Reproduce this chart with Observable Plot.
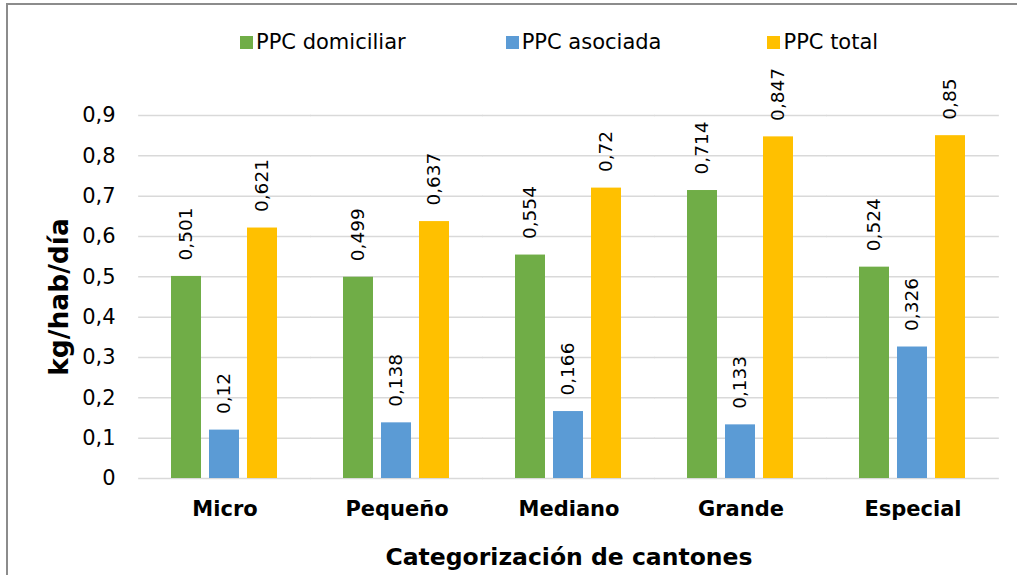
<!DOCTYPE html>
<html>
<head>
<meta charset="utf-8">
<script src="https://cdn.jsdelivr.net/npm/d3@7"></script>
<script src="https://cdn.jsdelivr.net/npm/@observablehq/plot@0.6"></script>
<style>
  html, body { margin: 0; padding: 0; background: #fff; }
  body { width: 1017px; height: 575px; position: relative; overflow: hidden; font-family: "DejaVu Sans", sans-serif; }
  #frame { position: absolute; left: 6px; top: 3px; width: 1200px; height: 800px; border-left: 2px solid #8c8c8c; border-top: 2px solid #8c8c8c; }
  #legend { position: absolute; top: 30px; left: 240px; height: 24px; display: flex; align-items: center; font-size: 21px; color: #000; }
  .item { display: flex; align-items: center; white-space: nowrap; }
  .sw { width: 13px; height: 13px; margin-right: 3px; }
  #chart { position: absolute; left: 0; top: 70px; }
  #chart svg [aria-label="fx-axis label"] text { font-size: 23.5px; font-weight: bold; }
  #chart svg [aria-label="y-axis label"] text { font-size: 26.5px; font-weight: bold; }
</style>
</head>
<body>
<div id="frame"></div>
<div id="legend"></div>
<div id="chart"></div>
<script>
const categories = ["Micro", "Pequeño", "Mediano", "Grande", "Especial"];
const series = ["PPC domiciliar", "PPC asociada", "PPC total"];
const domiciliar = [0.501, 0.499, 0.554, 0.714, 0.524];
const asociada = [0.12, 0.138, 0.166, 0.133, 0.326];
const total = [0.621, 0.637, 0.72, 0.847, 0.85];
const colors = ["#70AD47", "#5B9BD5", "#FFC000"];
const yTicks = [0, 0.1, 0.2, 0.3, 0.4, 0.5, 0.6, 0.7, 0.8, 0.9];

const values = [domiciliar, asociada, total];
const data = categories.flatMap((c, i) => series.map((s, j) => ({cat: c, serie: s, value: values[j][i]})));
const fmt = d => String(+d.toFixed(3)).replace(".", ",");

// legend
const legend = document.getElementById("legend");
const legendGaps = [100, 106, 0];
series.forEach((s, j) => {
  const it = document.createElement("div");
  it.className = "item";
  it.style.marginRight = legendGaps[j] + "px";
  const sw = document.createElement("span");
  sw.className = "sw";
  sw.style.background = colors[j];
  const t = document.createElement("span");
  t.textContent = s;
  it.appendChild(sw); it.appendChild(t);
  legend.appendChild(it);
});

const W = 1017, ML = 136, MR = 17, PAD = 0.38;
const step = (W - ML - MR) / categories.length;
const outer = step * PAD / 2; // distance from plot edge to first facet
const gridInset = -outer;

const chart = Plot.plot({
  width: W,
  height: 505,
  marginLeft: ML,
  marginRight: MR,
  marginTop: 45,
  marginBottom: 97,
  style: {fontFamily: "DejaVu Sans", color: "#000", background: "transparent", overflow: "visible"},
  fx: {domain: categories, paddingInner: PAD, paddingOuter: PAD / 2},
  x: {domain: series, paddingInner: 0.21, paddingOuter: 0, axis: null},
  y: {domain: [0, 0.9]},
  color: {domain: series, range: colors},
  marks: [
    Plot.ruleY(yTicks, {stroke: "#d9d9d9", strokeWidth: 1.5, insetLeft: gridInset, insetRight: gridInset}),
    Plot.barY(data, {fx: "cat", x: "serie", y: "value", fill: "serie"}),
    Plot.text(data, {fx: "cat", x: "serie", y: "value", text: d => fmt(d.value), rotate: -90, textAnchor: "start", dy: -16, fontSize: 18.5, fill: "#000"}),
    Plot.axisY(yTicks, {tickSize: 0, tickPadding: 23 + outer, tickFormat: fmt, fontSize: 21, label: "kg/hab/día", labelAnchor: "center", labelArrow: "none", labelOffset: 89 + outer}),
    Plot.axisFx({anchor: "bottom", tickSize: 0, tickPadding: 23, fontSize: 21, fontWeight: "bold", label: "Categorización de cantones", labelAnchor: "center", labelArrow: "none", labelOffset: 86})
  ]
});
document.getElementById("chart").appendChild(chart);
</script>
</body>
</html>
